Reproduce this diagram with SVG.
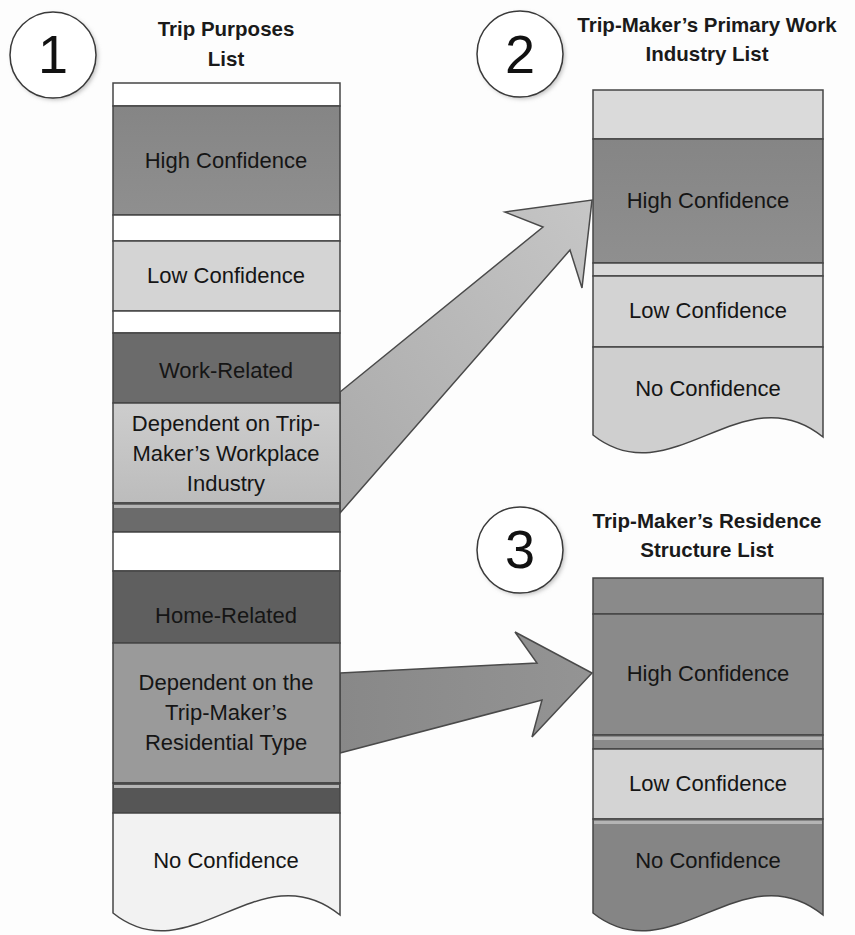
<svg xmlns="http://www.w3.org/2000/svg" width="855" height="935" viewBox="0 0 855 935">
<style>
.cell{stroke:#454545;stroke-width:1.5}
.lbl{font-family:"Liberation Sans",Arial,sans-serif;font-size:22px;fill:#151515;text-anchor:middle}
.ttl{font-family:"Liberation Sans",Arial,sans-serif;font-size:20.5px;font-weight:bold;fill:#1a1a1a;text-anchor:middle}
.num{font-family:"Liberation Sans",Arial,sans-serif;font-size:54px;fill:#111;text-anchor:middle}
.circ{fill:#fff;stroke:#3a3a3a;stroke-width:1.5}
.shadow{fill:#bdbdbd;filter:url(#blur)}
.stripe{fill:#b4b4b4}
.arrow{stroke:#4a4a4a;stroke-width:1.5;stroke-linejoin:miter}
</style>
<defs>
<filter id="blur" x="-20%" y="-20%" width="140%" height="140%"><feGaussianBlur stdDeviation="2"/></filter>
<linearGradient id="gHigh" x1="0" y1="0" x2="0" y2="1"><stop offset="0" stop-color="#858585"/><stop offset="1" stop-color="#8f8f8f"/></linearGradient>
<linearGradient id="gWork" x1="0" y1="0" x2="0" y2="1"><stop offset="0" stop-color="#cdcdcd"/><stop offset="1" stop-color="#bcbcbc"/></linearGradient>
<linearGradient id="gA1" x1="0" y1="1" x2="1" y2="0"><stop offset="0" stop-color="#a9a9a9"/><stop offset="1" stop-color="#c6c6c6"/></linearGradient>
<linearGradient id="gA2" x1="0" y1="0" x2="1" y2="0"><stop offset="0" stop-color="#888888"/><stop offset="1" stop-color="#949494"/></linearGradient>
</defs>
<rect width="855" height="935" fill="#fdfdfd"/>

<g id="connectors">
<polygon class="arrow" fill="url(#gA1)" points="340,392 543,227 505,212 592,200 582,288 570,250 340,513"/>
<polygon class="arrow" fill="url(#gA2)" points="340,673 537,663 515,632 592,673 532,737 542,700 340,753"/>
</g>

<g id="badge1">
<circle class="shadow" cx="55" cy="57" r="43"/>
<circle class="circ" cx="53" cy="55" r="43"/>
<text class="num" x="53" y="73">1</text>
</g>
<g id="badge2">
<circle class="shadow" cx="522" cy="56" r="43"/>
<circle class="circ" cx="520" cy="54" r="43"/>
<text class="num" x="520" y="73">2</text>
</g>
<g id="badge3">
<circle class="shadow" cx="522" cy="552" r="43"/>
<circle class="circ" cx="520" cy="550" r="43"/>
<text class="num" x="520" y="568">3</text>
</g>

<g id="list1">
<text class="ttl" x="226" y="36">Trip Purposes</text>
<text class="ttl" x="226" y="66">List</text>
<rect class="cell" x="113" y="83" width="227" height="23" fill="#ffffff"/>
<rect class="cell" x="113" y="106" width="227" height="109" fill="url(#gHigh)"/>
<rect class="cell" x="113" y="215" width="227" height="26" fill="#ffffff"/>
<rect class="cell" x="113" y="241" width="227" height="70" fill="#d4d4d4"/>
<rect class="cell" x="113" y="311" width="227" height="22" fill="#ffffff"/>
<rect class="cell" x="113" y="333" width="227" height="70" fill="#6b6b6b"/>
<rect class="cell" x="113" y="403" width="227" height="100" fill="url(#gWork)"/>
<rect class="cell" x="113" y="503" width="227" height="29" fill="#6b6b6b"/>
<rect class="stripe" x="114" y="505" width="225" height="3"/>
<rect class="cell" x="113" y="532" width="227" height="39" fill="#ffffff"/>
<rect class="cell" x="113" y="571" width="227" height="72" fill="#5f5f5f"/>
<rect class="cell" x="113" y="643" width="227" height="140" fill="#9a9a9a"/>
<rect class="cell" x="113" y="783" width="227" height="30" fill="#565656"/>
<rect class="stripe" x="114" y="785" width="225" height="3"/>
<path class="cell" d="M113,813 H340 V915 C260,850 190,975 113,913 Z" fill="#f2f2f2"/>
<text class="lbl" x="226" y="168">High Confidence</text>
<text class="lbl" x="226" y="283">Low Confidence</text>
<text class="lbl" x="226" y="378">Work-Related</text>
<text class="lbl" x="226" y="431">Dependent on Trip-</text>
<text class="lbl" x="226" y="461">Maker’s Workplace</text>
<text class="lbl" x="226" y="491">Industry</text>
<text class="lbl" x="226" y="623">Home-Related</text>
<text class="lbl" x="226" y="690">Dependent on the</text>
<text class="lbl" x="226" y="720">Trip-Maker’s</text>
<text class="lbl" x="226" y="750">Residential Type</text>
<text class="lbl" x="226" y="868">No Confidence</text>
</g>

<g id="list2">
<text class="ttl" x="707" y="32">Trip-Maker’s Primary Work</text>
<text class="ttl" x="707" y="61">Industry List</text>
<rect class="cell" x="593" y="90" width="230" height="49" fill="#dadada"/>
<rect class="cell" x="593" y="139" width="230" height="124" fill="url(#gHigh)"/>
<rect class="cell" x="593" y="263" width="230" height="13" fill="#d9d9d9"/>
<rect class="cell" x="593" y="276" width="230" height="71" fill="#d3d3d3"/>
<path class="cell" d="M593,347 H823 V437 C743,372 671,497 593,435 Z" fill="#cfcfcf"/>
<text class="lbl" x="708" y="208">High Confidence</text>
<text class="lbl" x="708" y="318">Low Confidence</text>
<text class="lbl" x="708" y="396">No Confidence</text>
</g>

<g id="list3">
<text class="ttl" x="707" y="528">Trip-Maker’s Residence</text>
<text class="ttl" x="707" y="557">Structure List</text>
<rect class="cell" x="593" y="578" width="230" height="36" fill="#8a8a8a"/>
<rect class="cell" x="593" y="614" width="230" height="121" fill="#8a8a8a"/>
<rect class="cell" x="593" y="735" width="230" height="14" fill="#8a8a8a"/>
<rect class="stripe" x="594" y="737" width="228" height="3"/>
<rect class="cell" x="593" y="749" width="230" height="70" fill="#d4d4d4"/>
<path class="cell" d="M593,819 H823 V915 C743,850 671,975 593,913 Z" fill="#858585"/>
<rect class="stripe" x="594" y="821" width="228" height="3"/>
<text class="lbl" x="708" y="681">High Confidence</text>
<text class="lbl" x="708" y="791">Low Confidence</text>
<text class="lbl" x="708" y="868">No Confidence</text>
</g>
</svg>
